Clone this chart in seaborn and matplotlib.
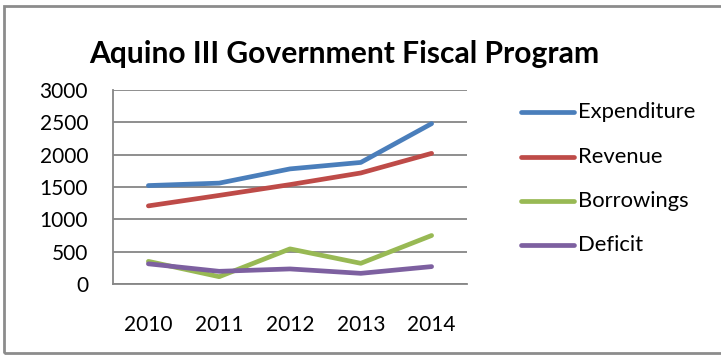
import numpy as np
import pandas as pd
import seaborn as sns
import matplotlib
matplotlib.use("Agg")
import matplotlib.pyplot as plt
from matplotlib.patches import Rectangle

# Fiscal program figures (billion pesos)
years = ["2010", "2011", "2012", "2013", "2014"]
expenditure = [1522, 1560, 1780, 1880, 2480]
revenue = [1208, 1370, 1537, 1717, 2020]
borrowings = [350, 113, 543, 320, 750]
deficit = [312, 196, 233, 165, 269]

series_names = ["Expenditure", "Revenue", "Borrowings", "Deficit"]
series_colors = ["#4A7EBB", "#BE4B48", "#98B954", "#7D60A0"]
y_ticks = [0, 500, 1000, 1500, 2000, 2500, 3000]

df = pd.DataFrame({
    "pos": np.tile(np.arange(len(years)), 4),
    "value": expenditure + revenue + borrowings + deficit,
    "series": np.repeat(series_names, len(years)),
})

sns.set_theme(style="white")
plt.rcParams["font.family"] = ["Lato", "DejaVu Sans"]

W, H = 721, 356
LW = 3.4
fig = plt.figure(figsize=(W / 100, H / 100), dpi=100)
ax = fig.add_axes([113 / W, 1 - 284 / H, (467 - 113) / W, (284 - 90) / H])

sns.lineplot(data=df, x="pos", y="value", hue="series", hue_order=series_names,
             palette=series_colors, linewidth=LW, ax=ax, legend=False,
             solid_capstyle="round", solid_joinstyle="round")

ax.set_xlim(-0.5, len(years) - 0.5)
ax.set_ylim(0, 3000)
ax.set_yticks(y_ticks)
ax.set_yticklabels([str(t) for t in y_ticks], fontsize=15, color="#000000")
ax.set_xticks(np.arange(len(years)))
ax.set_xticklabels(years, fontsize=15, color="#000000")
ax.tick_params(axis="x", length=0, pad=22)
ax.tick_params(axis="y", length=0, pad=18)
ax.set_xlabel("")
ax.set_ylabel("")

grid_color = "#868686"
ax.yaxis.grid(True, color=grid_color, linewidth=1.3)
ax.set_axisbelow(True)
for side in ["top", "right"]:
    ax.spines[side].set_visible(False)
for side in ["left", "bottom"]:
    ax.spines[side].set_color(grid_color)
    ax.spines[side].set_linewidth(1.3)
    ax.spines[side].set_zorder(3)

# Legend drawn in figure pixel coordinates
rows_y = [112, 157, 201, 245]
for name, color, yy in zip(series_names, series_colors, rows_y):
    fy = 1 - yy / H
    fig.add_artist(plt.Line2D([521 / W, 574 / W], [fy, fy], color=color,
                              linewidth=LW, solid_capstyle="round",
                              transform=fig.transFigure))
    fig.text(578 / W, fy, name, fontsize=15.8, va="center", ha="left",
             color="#000000")

fig.text(344 / W, 1 - 54 / H, "Aquino III Government Fiscal Program",
         fontsize=21.6, fontweight="bold", ha="center", va="center",
         color="#000000")

# Chart area border
fig.add_artist(Rectangle((4 / W, 1 - 353 / H), 1.0, (353 - 6) / H,
                         transform=fig.transFigure, fill=False,
                         edgecolor="#8C8C8C", linewidth=2.0))

fig.savefig("out.png", dpi=100)
